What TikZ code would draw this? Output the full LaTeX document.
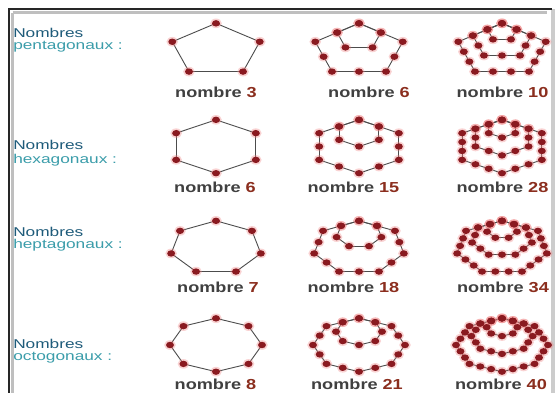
\documentclass[tikz,border=0pt]{standalone}
\usepackage{fontspec}
\setmainfont{Liberation Sans}
\definecolor{dotred}{HTML}{8A1A20}
\definecolor{glowred}{HTML}{F08080}
\definecolor{navyteal}{HTML}{1E5B7A}
\definecolor{lightteal}{HTML}{3B9DAA}
\definecolor{numbrown}{HTML}{8B2E1E}
\definecolor{textgray}{HTML}{404040}
\tikzset{
  edge/.style={black!70, line width=0.9pt},
  dot/.style={fill=dotred},
  glow/.style={fill=glowred, opacity=0.35},
  kind/.style={anchor=base west, inner sep=0, xscale=1.35, font=\fontsize{12.8}{14}\selectfont},
  count/.style={anchor=base, inner sep=0, xscale=1.25, text=textgray, font=\fontsize{14.5}{16}\selectfont\bfseries}
}
\def\figrx{46}
\def\figry{26.7}
% #1 sides, #2 rank, #3 centre x, #4 centre y, #5 done at every dot (d) of edge (p)--(q)
\newcommand{\figloop}[5]{%
  \foreach \lev in {1,...,#2}{
    \foreach \sd in {1,...,#1}{
      \pgfmathsetmacro{\anga}{90+360*(\sd-1)/#1}
      \pgfmathsetmacro{\angb}{90+360*\sd/#1}
      \pgfmathsetmacro{\px}{#3+\lev/#2*\figrx*cos(\anga)}
      \pgfmathsetmacro{\py}{#4-\figry+\lev/#2*\figry*(1-sin(\anga))}
      \pgfmathsetmacro{\qx}{#3+\lev/#2*\figrx*cos(\angb)}
      \pgfmathsetmacro{\qy}{#4-\figry+\lev/#2*\figry*(1-sin(\angb))}
      \coordinate (p) at (\px,\py);
      \coordinate (q) at (\qx,\qy);
      \foreach \pt in {1,...,\lev}{
        \pgfmathsetmacro{\tpos}{(\pt-1)/\lev}
        \coordinate (d) at ({\px+\tpos*(\qx-\px)},{\py+\tpos*(\qy-\py)});
        #5
      }
    }
  }
}
\newcommand{\polyfig}[4]{%
  \figloop{#1}{#2}{#3}{#4}{\ifnum\pt=1 \draw[edge] (p) -- (q);\fi}
  \figloop{#1}{#2}{#3}{#4}{\fill[glow] (d) ellipse [x radius=5.8pt, y radius=4.8pt];}
  \figloop{#1}{#2}{#3}{#4}{\fill[dot] (d) ellipse [x radius=4pt, y radius=3.2pt];}
}

\begin{document}
\begin{tikzpicture}[x=1pt, y=-1pt]
  \useasboundingbox (0,0) rectangle (560,392);
  \fill[white] (0,0) rectangle (560,392);

  % frame
  \draw[black!25, line width=2.5pt] (12.5,12.5) -- (547,12.5);
  \draw[black!25, line width=2.5pt] (12.5,12.5) -- (12.5,395);
  \draw[black!20, line width=4pt] (553,9) -- (553,395);
  \draw[black!85, line width=2.4pt] (9,396) -- (9,9) -- (552,9);

  % row labels
  \node[kind, text=navyteal] (pa) at (13,37.3) {Nombres};
  \node[kind, text=lightteal] (pb) at (13,49.5) {pentagonaux :};
  \node[kind, text=navyteal] (ha) at (13,149.3) {Nombres};
  \node[kind, text=lightteal] (hb) at (13,163) {hexagonaux :};
  \node[kind, text=navyteal] (sa) at (13,236) {Nombres};
  \node[kind, text=lightteal] (sb) at (13,248.5) {heptagonaux :};
  \node[kind, text=navyteal] (oa) at (13,348) {Nombres};
  \node[kind, text=lightteal] (ob) at (13,360.5) {octogonaux :};

  % pentagons
  \polyfig{5}{1}{216}{50}
  \polyfig{5}{2}{359}{50}
  \polyfig{5}{3}{502}{50}
  \node[count] (p1) at (216,97.7) {nombre \textcolor{numbrown}{3}};
  \node[count] (p2) at (369,97.7) {nombre \textcolor{numbrown}{6}};
  \node[count] (p3) at (502.5,97.7) {nombre \textcolor{numbrown}{10}};

  % hexagons
  \polyfig{6}{1}{216}{146.5}
  \polyfig{6}{2}{359}{146.5}
  \polyfig{6}{3}{502}{146.5}
  \node[count] (h1) at (215,192.3) {nombre \textcolor{numbrown}{6}};
  \node[count] (h2) at (353.5,192.3) {nombre \textcolor{numbrown}{15}};
  \node[count] (h3) at (502.5,192.3) {nombre \textcolor{numbrown}{28}};

  % heptagons
  \polyfig{7}{1}{216}{247.5}
  \polyfig{7}{2}{359}{247.5}
  \polyfig{7}{3}{502}{247.5}
  \node[count] (s1) at (218,292.3) {nombre \textcolor{numbrown}{7}};
  \node[count] (s2) at (353.5,292.3) {nombre \textcolor{numbrown}{18}};
  \node[count] (s3) at (503,292.3) {nombre \textcolor{numbrown}{34}};

  % octagons
  \polyfig{8}{1}{216}{345}
  \polyfig{8}{2}{359}{345}
  \polyfig{8}{3}{502}{345}
  \node[count] (o1) at (215.5,389) {nombre \textcolor{numbrown}{8}};
  \node[count] (o2) at (357,389) {nombre \textcolor{numbrown}{21}};
  \node[count] (o3) at (501,389) {nombre \textcolor{numbrown}{40}};
\end{tikzpicture}
\end{document}
